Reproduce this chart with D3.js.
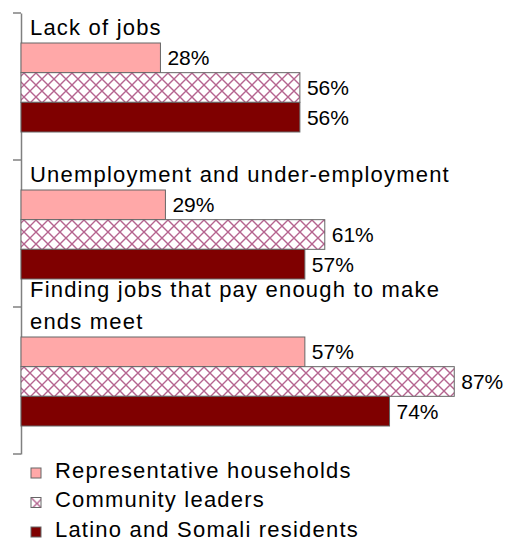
<!DOCTYPE html>
<html>
<head>
<meta charset="utf-8">
<script src="https://cdn.jsdelivr.net/npm/d3@7"></script>
<style>
  html, body { margin: 0; padding: 0; background: #ffffff; }
  svg { display: block; font-family: Arial, "Liberation Sans", sans-serif; }
</style>
</head>
<body>
<svg id="chart" width="506" height="554"></svg>
<script>
// ---- data ----
const categories = ["Lack of jobs", "Unemployment and under-employment", "Finding jobs that pay enough to make ends meet"];
const categoryLines = [["Lack of jobs"], ["Unemployment and under-employment"], ["Finding jobs that pay enough to make", "ends meet"]];
const seriesNames = ["Representative households", "Community leaders", "Latino and Somali residents"];
const representative = [28, 29, 57];
const communityLeaders = [56, 61, 87];
const latinoSomali = [56, 57, 74];
const seriesValues = [representative, communityLeaders, latinoSomali];

// ---- layout ----
const svg = d3.select("#chart");
const axisX = 21, plotTop = 13, plotBottom = 454;
const fillOf = ["#ffa8a8", "url(#hatch)", "#7f0000"];
const stroke = "#666666";

// hatch pattern
const defs = svg.append("defs");
const p = 12;
const pat = defs.append("pattern").attr("id", "hatch").attr("patternUnits", "userSpaceOnUse")
  .attr("width", p).attr("height", p).attr("x", 0).attr("y", 0);
pat.append("rect").attr("width", p).attr("height", p).attr("fill", "#ffffff");
pat.append("path").attr("d", `M0,0L${p},${p}M${p},0L0,${p}M-1,${p-1}L1,${p+1}M${p-1},-1L${p+1},1`)
  .attr("stroke", "#b5648f").attr("stroke-width", 1.4).attr("fill", "none");

const x = d3.scaleLinear().domain([0, 100]).range([axisX, axisX + 498]);
const y0 = d3.scaleBand().domain(categories).range([plotTop, plotBottom]).padding(0);
const y1 = d3.scaleBand().domain(seriesNames).range([30, 119]).padding(0);

// axis
const yAxis = d3.axisLeft(y0).tickValues([]).tickSizeOuter(0);
const axisG = svg.append("g").attr("transform", `translate(${axisX},0)`).call(yAxis);
axisG.select(".domain").attr("stroke", "#808080").attr("stroke-width", 1.5);
const boundaries = categories.map(c => y0(c)).concat([y0(categories[categories.length - 1]) + y0.bandwidth()]);
axisG.selectAll(".bt").data(boundaries).enter().append("line")
  .attr("x1", -8).attr("x2", 0).attr("y1", d => d).attr("y2", d => d)
  .attr("stroke", "#808080").attr("stroke-width", 1.5);

// groups
categories.forEach((cat, ci) => {
  const g = svg.append("g").attr("transform", `translate(0,${y0(cat)})`);
  seriesNames.forEach((s, si) => {
    const v = seriesValues[si][ci];
    g.append("rect")
      .attr("x", x(0)).attr("y", y1(s))
      .attr("width", x(v) - x(0)).attr("height", y1.bandwidth())
      .attr("fill", fillOf[si]).attr("stroke", stroke).attr("stroke-width", 1);
    g.append("text")
      .attr("x", x(v) + 7).attr("y", y1(s) + y1.bandwidth() / 2).attr("dy", "0.36em")
      .attr("font-size", 21).attr("fill", "#000")
      .text(v + "%");
  });
  const lines = categoryLines[ci];
  const lastBase = y1(seriesNames[0]) - 8;
  lines.forEach((ln, li) => {
    g.append("text")
      .attr("x", 30).attr("y", lastBase - (lines.length - 1 - li) * 32)
      .attr("font-size", 22).attr("letter-spacing", 1.2).attr("fill", "#000")
      .text(ln);
  });
});

// legend
const leg = svg.append("g").attr("transform", "translate(31,468)");
seriesNames.forEach((s, si) => {
  const r = leg.append("g").attr("transform", `translate(0,${si * 29.5})`);
  r.append("rect").attr("width", 10).attr("height", 10)
    .attr("fill", fillOf[si]).attr("stroke", stroke).attr("stroke-width", 1);
  r.append("text").attr("x", 24).attr("y", 9.5)
    .attr("font-size", 22).attr("letter-spacing", 1.2).attr("fill", "#000").text(s);
});
</script>
</body>
</html>
